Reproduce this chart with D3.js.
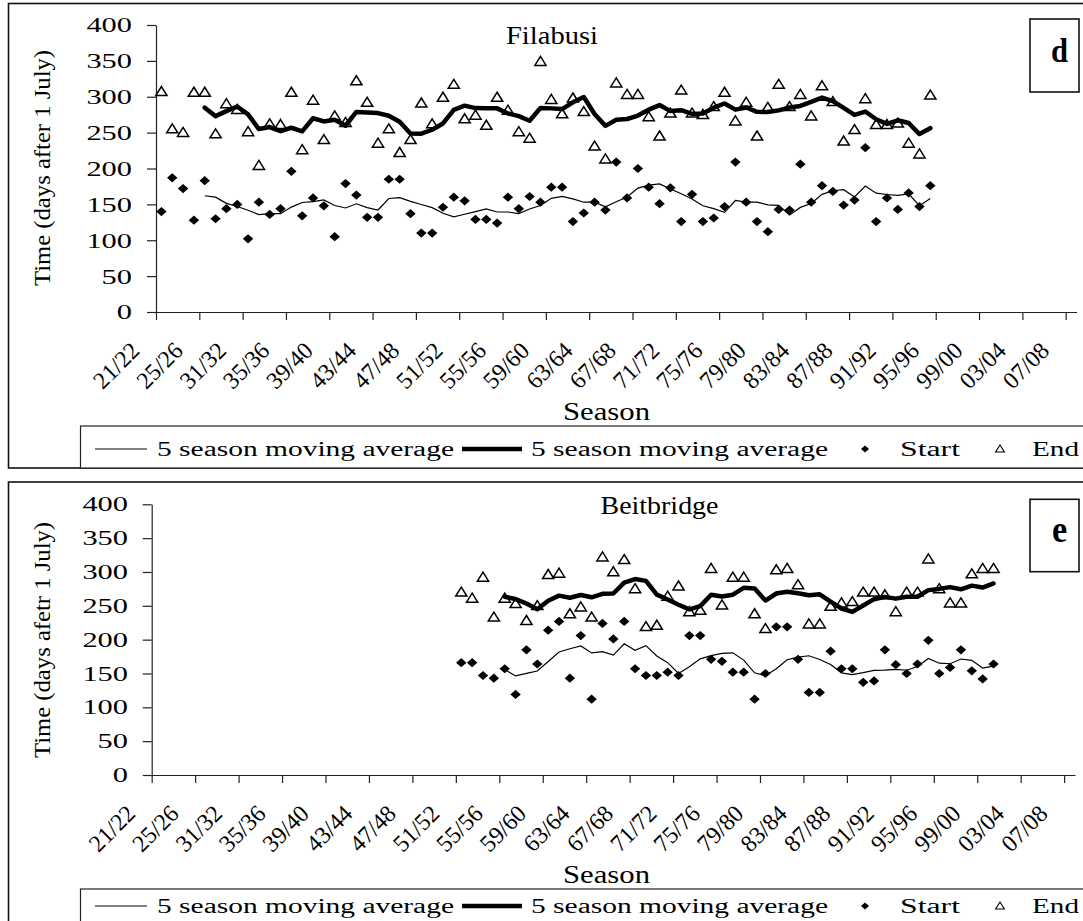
<!DOCTYPE html>
<html>
<head>
<meta charset="utf-8">
<script src="https://d3js.org/d3.v7.min.js"></script>
<style>
  body { margin: 0; background: #fff; }
  text { font-family: "Liberation Serif", Tinos, "Times New Roman", Times, "Nimbus Roman", serif; fill: #000; }
</style>
</head>
<body>
<div id="chart"></div>
<script>
// categories (one per season on the axis)
const seasons = [
  "21/22","22/23","23/24","24/25","25/26","26/27","29/30","30/31",
  "31/32","32/33","33/34","34/35","35/36","36/37","37/38","38/39","39/40","40/41",
  "41/42","42/43","43/44","44/45","45/46","46/47","47/48","48/49","49/50","50/51",
  "51/52","52/53","53/54","54/55","55/56","56/57","57/58","58/59","59/60","60/61",
  "61/62","62/63","63/64","64/65","65/66","66/67","67/68","68/69","69/70","70/71",
  "71/72","72/73","73/74","74/75","75/76","76/77","77/78","78/79","79/80","80/81",
  "81/82","82/83","83/84","84/85","85/86","86/87","87/88","88/89","89/90","90/91",
  "91/92","92/93","93/94","94/95","95/96","96/97","97/98","98/99","99/00","00/01",
  "01/02","02/03","03/04","04/05","05/06","06/07","07/08"
];
const tickLabels = ["21/22","25/26","31/32","35/36","39/40","43/44","47/48","51/52",
  "55/56","59/60","63/64","67/68","71/72","75/76","79/80","83/84","87/88","91/92",
  "95/96","99/00","03/04","07/08"];
const yTicks = [0, 50, 100, 150, 200, 250, 300, 350, 400];

const stationNames = ["Filabusi", "Beitbridge"];
const panelLetters = ["d", "e"];
const yTitles = ["Time (days after 1 July)", "Time (days afetr 1 July)"];
const xTitle = "Season";
const legendLabels = ["5 season moving average", "5 season moving average", "Start", "End"];
const PERIOD = 5;

// Filabusi, from 21/22
const filabusiFirst = "21/22";
const filabusiStart = [140,187,172,128,183,130,144,150,102,153,136,144,196,134,159,148,105,179,
  163,132,132,185,185,137,110,110,146,160,155,129,129,124,160,144,161,153,174,174,126,138,
  153,142,209,159,200,174,151,173,126,164,126,131,147,209,153,126,112,143,142,206,153,176,
  168,149,156,229,126,159,143,166,147,176];
const filabusiEnd = [307,255,250,306,306,248,290,282,251,204,262,261,306,226,295,240,273,264,
  322,292,235,255,222,240,291,262,299,317,269,274,260,299,281,251,242,349,296,276,298,279,
  231,213,319,303,303,272,245,277,309,277,275,286,306,266,292,245,285,317,286,303,273,315,
  293,238,254,297,261,261,263,235,220,302];

// Beitbridge, from 51/52
const beitFirst = "51/52";
const beitStart = [166,166,147,143,157,119,185,164,214,227,143,206,112,224,201,227,157,147,
  147,152,147,206,206,171,168,152,152,112,150,219,219,171,122,122,183,157,157,137,139,185,
  163,150,164,199,150,159,185,154,142,164];
const beitEnd = [270,261,292,233,261,253,228,250,296,298,238,248,233,322,300,318,275,219,
  221,264,279,241,243,305,251,292,292,238,216,303,305,281,223,223,249,254,256,270,270,266,
  241,270,270,319,275,254,254,297,305,305];

// Excel style moving average trendline over the plotted points
function movingAvg(vals, n) {
  return vals.map((v, i) => i < n - 1 ? null : d3.mean(vals.slice(i - n + 1, i + 1)));
}

const W = 1083, H = 921;
const svg = d3.select("#chart").append("svg").attr("width", W).attr("height", H);

const diamond = "M0,-4.6L5.2,0L0,4.6L-5.2,0Z";
const triangle = "M0,-5.2L5.6,3.8L-5.6,3.8Z";

const panels = [
  { name: stationNames[0], letter: panelLetters[0], yTitle: yTitles[0],
    first: filabusiFirst, start: filabusiStart, end: filabusiEnd,
    top: 3.5, bottom: 468, x0: 156, x1: 1076.5, y0: 312, y400: 25, tickFont: 22, labelRight: 132,
    titleX: 552, titleY: 44, titleW: 92, yTitleY: 168,
    box: [1030, 19, 1079, 92], letterY: 62, letterSize: 34, legendTop: 426, legendY: 449 },
  { name: stationNames[1], letter: panelLetters[1], yTitle: yTitles[1],
    first: beitFirst, start: beitStart, end: beitEnd,
    top: 482, bottom: 935, x0: 151.7, x1: 1075, y0: 775, y400: 504.3, tickFont: 21, labelRight: 128,
    titleX: 659.5, titleY: 514, titleW: 118, yTitleY: 640,
    box: [1030, 499.3, 1079, 571.7], letterY: 542, letterSize: 38, legendTop: 889, legendY: 906 }
];

panels.forEach(p => {
  const g = svg.append("g");

  // frame
  g.append("rect").attr("x", 8.5).attr("y", p.top).attr("width", 1100).attr("height", p.bottom - p.top)
    .attr("fill", "none").attr("stroke", "#111").attr("stroke-width", 1.6);

  const x = d3.scaleBand().domain(seasons).range([p.x0, p.x1]).paddingInner(0).paddingOuter(0);
  const xb = d3.scaleLinear().domain([0, seasons.length]).range([p.x0, p.x1]);
  const y = d3.scaleLinear().domain([0, 400]).range([p.y0, p.y400]);
  const cx = s => x(s) + x.bandwidth() / 2;

  // y axis
  const ya = g.append("g").attr("transform", `translate(${p.x0},0)`)
    .call(d3.axisLeft(y).tickValues(yTicks).tickSize(9).tickSizeOuter(0).tickFormat(""));
  ya.selectAll("path,line").attr("stroke", "#222").attr("stroke-width", 1.2);
  g.selectAll(".ylab").data(yTicks).join("text")
    .attr("x", p.labelRight).attr("y", d => y(d))
    .attr("text-anchor", "end").attr("dy", "0.34em")
    .attr("textLength", d => String(d).length * 15.2).attr("lengthAdjust", "spacingAndGlyphs")
    .style("font-size", p.tickFont + "px").text(d => d);

  // x axis
  const xa = g.append("g").attr("transform", `translate(0,${p.y0})`)
    .call(d3.axisBottom(xb).tickValues(d3.range(0, seasons.length, 4)).tickSize(8).tickSizeOuter(0).tickFormat(""));
  xa.selectAll("path,line").attr("stroke", "#222").attr("stroke-width", 1.2);
  g.selectAll(".xlab").data(tickLabels).join("text")
    .attr("transform", d => `translate(${xb(seasons.indexOf(d)) - 15},${p.y0 + 40}) rotate(-45)`)
    .attr("text-anchor", "end").attr("textLength", 54).attr("lengthAdjust", "spacingAndGlyphs")
    .style("font-size", "24px").text(d => d);

  // axis titles
  g.append("text").attr("transform", `translate(42,${p.yTitleY}) rotate(-90)`)
    .attr("text-anchor", "middle").attr("dy", "0.35em")
    .attr("textLength", 236).attr("lengthAdjust", "spacingAndGlyphs")
    .style("font-size", "24px").text(p.yTitle);
  g.append("text").attr("x", 606.5 - 43.5).attr("y", p.y0 + 108)
    .attr("textLength", 87).attr("lengthAdjust", "spacingAndGlyphs")
    .style("font-size", "26px").text(xTitle);

  // station title
  g.append("text").attr("x", p.titleX - p.titleW / 2).attr("y", p.titleY)
    .attr("textLength", p.titleW).attr("lengthAdjust", "spacingAndGlyphs")
    .style("font-size", "25px").text(p.name);

  // panel letter box
  g.append("rect").attr("x", p.box[0]).attr("y", p.box[1])
    .attr("width", p.box[2] - p.box[0]).attr("height", p.box[3] - p.box[1])
    .attr("fill", "#fff").attr("stroke", "#111").attr("stroke-width", 1.6);
  g.append("text").attr("transform", `translate(${(p.box[0] + p.box[2]) / 2 + 5},${p.letterY}) scale(0.9,1)`)
    .attr("text-anchor", "middle").style("font-size", p.letterSize + "px").style("font-weight", "bold")
    .text(p.letter);

  // series
  const i0 = seasons.indexOf(p.first);
  const startPts = p.start.map((v, j) => ({ s: seasons[i0 + j], v }));
  const endPts = p.end.map((v, j) => ({ s: seasons[i0 + j], v }));
  const startMA = movingAvg(p.start, PERIOD).map((v, j) => ({ s: seasons[i0 + j], v }));
  const endMA = movingAvg(p.end, PERIOD).map((v, j) => ({ s: seasons[i0 + j], v }));

  g.selectAll(".start").data(startPts).join("path")
    .attr("transform", d => `translate(${cx(d.s)},${y(d.v)})`)
    .attr("d", diamond).attr("fill", "#000");
  g.selectAll(".end").data(endPts).join("path")
    .attr("transform", d => `translate(${cx(d.s)},${y(d.v)})`)
    .attr("d", triangle).attr("fill", "#fff").attr("stroke", "#000").attr("stroke-width", 1.5);

  const line = d3.line().defined(d => d.v != null).x(d => cx(d.s)).y(d => y(d.v));
  g.append("path").datum(startMA).attr("d", line)
    .attr("fill", "none").attr("stroke", "#000").attr("stroke-width", 1.2);
  g.append("path").datum(endMA).attr("d", line)
    .attr("fill", "none").attr("stroke", "#000").attr("stroke-width", 4.5)
    .attr("stroke-linejoin", "round").attr("stroke-linecap", "round");

  // legend
  const lt = p.legendTop, ly = p.legendY;
  g.append("rect").attr("x", 80.5).attr("y", lt).attr("width", 1100).attr("height", p.bottom - lt)
    .attr("fill", "#fff").attr("stroke", "#222").attr("stroke-width", 1.2);
  g.append("line").attr("x1", 95).attr("x2", 147).attr("y1", ly).attr("y2", ly)
    .attr("stroke", "#000").attr("stroke-width", 1.2);
  g.append("line").attr("x1", 462).attr("x2", 522).attr("y1", ly).attr("y2", ly)
    .attr("stroke", "#000").attr("stroke-width", 4.5);
  g.append("path").attr("transform", `translate(865,${ly})`).attr("d", "M0,-3.6L4,0L0,3.6L-4,0Z").attr("fill", "#000");
  g.append("path").attr("transform", `translate(1000,${ly})`).attr("d", "M0,-4L4.4,3L-4.4,3Z")
    .attr("fill", "#fff").attr("stroke", "#000").attr("stroke-width", 1.1);
  const legItems = [[157, 297], [531, 297], [900, 60], [1032, 47]];
  legendLabels.forEach((t, k) => {
    g.append("text").attr("x", legItems[k][0]).attr("y", ly + 6.5)
      .attr("textLength", legItems[k][1]).attr("lengthAdjust", "spacingAndGlyphs")
      .style("font-size", "20px").text(t);
  });
});
</script>
</body>
</html>
